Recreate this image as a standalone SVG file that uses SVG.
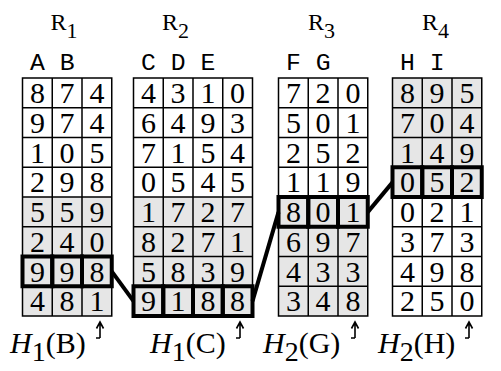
<svg xmlns="http://www.w3.org/2000/svg" width="501" height="371" viewBox="0 0 501 371">
<style>
.sh{fill:#e6e6e6}
.grid{fill:none;stroke:#000;stroke-width:1.5}
.hl{fill:none;stroke:#000;stroke-width:4}
.d{font-size:30px;text-anchor:middle;fill:#000}
.rn{font-size:24px;fill:#000}
.col{font-size:24.75px;fill:#000}
.lbl{font-size:30px;fill:#000}
.it{font-style:italic}
.conn{stroke:#000;stroke-width:4;fill:none}
.arr{stroke:#000;stroke-width:1.6;fill:none}
</style>
<rect width="501" height="371" fill="#fff"/>
<g id="R1" transform="translate(22.5,78)" font-family="'Liberation Serif', 'DejaVu Serif', serif">
<text class="rn" x="28" y="-48">R<tspan font-size="22" dy="8">1</tspan></text>
<text class="col" x="7.5" y="-8" font-family="'Liberation Mono', 'DejaVu Sans Mono', monospace">A B</text>
<rect class="sh" x="0" y="119" width="89.25" height="119"/>
<path class="grid" d="M0 29.75H89.25M0 59.5H89.25M0 89.25H89.25M0 119H89.25M0 148.75H89.25M0 178.5H89.25M0 208.25H89.25M29.75 0V238M59.5 0V238"/>
<rect class="grid" x="0" y="0" width="89.25" height="238"/>
<rect class="hl" x="0" y="178.5" width="29.75" height="29.75"/><rect class="hl" x="29.75" y="178.5" width="29.75" height="29.75"/><rect class="hl" x="59.5" y="178.5" width="29.75" height="29.75"/>
<g class="d">
<text x="14.9" y="25">8</text><text x="44.6" y="25">7</text><text x="74.4" y="25">4</text>
<text x="14.9" y="54.75">9</text><text x="44.6" y="54.75">7</text><text x="74.4" y="54.75">4</text>
<text x="14.9" y="84.5">1</text><text x="44.6" y="84.5">0</text><text x="74.4" y="84.5">5</text>
<text x="14.9" y="114.25">2</text><text x="44.6" y="114.25">9</text><text x="74.4" y="114.25">8</text>
<text x="14.9" y="144">5</text><text x="44.6" y="144">5</text><text x="74.4" y="144">9</text>
<text x="14.9" y="173.75">2</text><text x="44.6" y="173.75">4</text><text x="74.4" y="173.75">0</text>
<text x="14.9" y="203.5">9</text><text x="44.6" y="203.5">9</text><text x="74.4" y="203.5">8</text>
<text x="14.9" y="233.25">4</text><text x="44.6" y="233.25">8</text><text x="74.4" y="233.25">1</text>
</g>
<text class="lbl" x="-12.5" y="275"><tspan class="it">H</tspan><tspan font-size="28" dy="8">1</tspan><tspan dy="-8">(B)</tspan></text>
<path class="arr" d="M77.5 260V244M74 250.5L77.5 244L81 250.5M77.5 260H73.5"/>
</g>
<g id="R2" transform="translate(133.5,78)" font-family="'Liberation Serif', 'DejaVu Serif', serif">
<text class="rn" x="28.5" y="-48">R<tspan font-size="22" dy="8">2</tspan></text>
<text class="col" x="7.5" y="-8" font-family="'Liberation Mono', 'DejaVu Sans Mono', monospace">C D E</text>
<rect class="sh" x="0" y="119" width="119" height="119"/>
<path class="grid" d="M0 29.75H119M0 59.5H119M0 89.25H119M0 119H119M0 148.75H119M0 178.5H119M0 208.25H119M29.75 0V238M59.5 0V238M89.25 0V238"/>
<rect class="grid" x="0" y="0" width="119" height="238"/>
<rect class="hl" x="0" y="208.25" width="29.75" height="29.75"/><rect class="hl" x="29.75" y="208.25" width="29.75" height="29.75"/><rect class="hl" x="59.5" y="208.25" width="29.75" height="29.75"/><rect class="hl" x="89.25" y="208.25" width="29.75" height="29.75"/>
<g class="d">
<text x="14.9" y="25">4</text><text x="44.6" y="25">3</text><text x="74.4" y="25">1</text><text x="104.1" y="25">0</text>
<text x="14.9" y="54.75">6</text><text x="44.6" y="54.75">4</text><text x="74.4" y="54.75">9</text><text x="104.1" y="54.75">3</text>
<text x="14.9" y="84.5">7</text><text x="44.6" y="84.5">1</text><text x="74.4" y="84.5">5</text><text x="104.1" y="84.5">4</text>
<text x="14.9" y="114.25">0</text><text x="44.6" y="114.25">5</text><text x="74.4" y="114.25">4</text><text x="104.1" y="114.25">5</text>
<text x="14.9" y="144">1</text><text x="44.6" y="144">7</text><text x="74.4" y="144">2</text><text x="104.1" y="144">7</text>
<text x="14.9" y="173.75">8</text><text x="44.6" y="173.75">2</text><text x="74.4" y="173.75">7</text><text x="104.1" y="173.75">1</text>
<text x="14.9" y="203.5">5</text><text x="44.6" y="203.5">8</text><text x="74.4" y="203.5">3</text><text x="104.1" y="203.5">9</text>
<text x="14.9" y="233.25">9</text><text x="44.6" y="233.25">1</text><text x="74.4" y="233.25">8</text><text x="104.1" y="233.25">8</text>
</g>
<text class="lbl" x="16.5" y="275"><tspan class="it">H</tspan><tspan font-size="28" dy="8">1</tspan><tspan dy="-8">(C)</tspan></text>
<path class="arr" d="M106.5 260V244M103 250.5L106.5 244L110 250.5M106.5 260H102.5"/>
</g>
<g id="R3" transform="translate(278.5,78)" font-family="'Liberation Serif', 'DejaVu Serif', serif">
<text class="rn" x="29.5" y="-48">R<tspan font-size="22" dy="8">3</tspan></text>
<text class="col" x="7.5" y="-8" font-family="'Liberation Mono', 'DejaVu Sans Mono', monospace">F G</text>
<rect class="sh" x="0" y="119" width="89.25" height="119"/>
<path class="grid" d="M0 29.75H89.25M0 59.5H89.25M0 89.25H89.25M0 119H89.25M0 148.75H89.25M0 178.5H89.25M0 208.25H89.25M29.75 0V238M59.5 0V238"/>
<rect class="grid" x="0" y="0" width="89.25" height="238"/>
<rect class="hl" x="0" y="119" width="29.75" height="29.75"/><rect class="hl" x="29.75" y="119" width="29.75" height="29.75"/><rect class="hl" x="59.5" y="119" width="29.75" height="29.75"/>
<g class="d">
<text x="14.9" y="25">7</text><text x="44.6" y="25">2</text><text x="74.4" y="25">0</text>
<text x="14.9" y="54.75">5</text><text x="44.6" y="54.75">0</text><text x="74.4" y="54.75">1</text>
<text x="14.9" y="84.5">2</text><text x="44.6" y="84.5">5</text><text x="74.4" y="84.5">2</text>
<text x="14.9" y="114.25">1</text><text x="44.6" y="114.25">1</text><text x="74.4" y="114.25">9</text>
<text x="14.9" y="144">8</text><text x="44.6" y="144">0</text><text x="74.4" y="144">1</text>
<text x="14.9" y="173.75">6</text><text x="44.6" y="173.75">9</text><text x="74.4" y="173.75">7</text>
<text x="14.9" y="203.5">4</text><text x="44.6" y="203.5">3</text><text x="74.4" y="203.5">3</text>
<text x="14.9" y="233.25">3</text><text x="44.6" y="233.25">4</text><text x="74.4" y="233.25">8</text>
</g>
<text class="lbl" x="-15.5" y="275"><tspan class="it">H</tspan><tspan font-size="28" dy="8">2</tspan><tspan dy="-8">(G)</tspan></text>
<path class="arr" d="M76.5 260V244M73 250.5L76.5 244L80 250.5M76.5 260H72.5"/>
</g>
<g id="R4" transform="translate(392.5,78)" font-family="'Liberation Serif', 'DejaVu Serif', serif">
<text class="rn" x="29.5" y="-48">R<tspan font-size="22" dy="8">4</tspan></text>
<text class="col" x="7.5" y="-8" font-family="'Liberation Mono', 'DejaVu Sans Mono', monospace">H I</text>
<rect class="sh" x="0" y="0" width="89.25" height="119"/>
<path class="grid" d="M0 29.75H89.25M0 59.5H89.25M0 89.25H89.25M0 119H89.25M0 148.75H89.25M0 178.5H89.25M0 208.25H89.25M29.75 0V238M59.5 0V238"/>
<rect class="grid" x="0" y="0" width="89.25" height="238"/>
<rect class="hl" x="0" y="89.25" width="29.75" height="29.75"/><rect class="hl" x="29.75" y="89.25" width="29.75" height="29.75"/><rect class="hl" x="59.5" y="89.25" width="29.75" height="29.75"/>
<g class="d">
<text x="14.9" y="25">8</text><text x="44.6" y="25">9</text><text x="74.4" y="25">5</text>
<text x="14.9" y="54.75">7</text><text x="44.6" y="54.75">0</text><text x="74.4" y="54.75">4</text>
<text x="14.9" y="84.5">1</text><text x="44.6" y="84.5">4</text><text x="74.4" y="84.5">9</text>
<text x="14.9" y="114.25">0</text><text x="44.6" y="114.25">5</text><text x="74.4" y="114.25">2</text>
<text x="14.9" y="144">0</text><text x="44.6" y="144">2</text><text x="74.4" y="144">1</text>
<text x="14.9" y="173.75">3</text><text x="44.6" y="173.75">7</text><text x="74.4" y="173.75">3</text>
<text x="14.9" y="203.5">4</text><text x="44.6" y="203.5">9</text><text x="74.4" y="203.5">8</text>
<text x="14.9" y="233.25">2</text><text x="44.6" y="233.25">5</text><text x="74.4" y="233.25">0</text>
</g>
<text class="lbl" x="-14.5" y="275"><tspan class="it">H</tspan><tspan font-size="28" dy="8">2</tspan><tspan dy="-8">(H)</tspan></text>
<path class="arr" d="M76.5 260V244M73 250.5L76.5 244L80 250.5M76.5 260H72.5"/>
</g>
<g id="connectors">
<path class="conn" d="M111.75 271.4L133.5 301.1"/>
<path class="conn" d="M252.5 301.1L278.5 212.1"/>
<path class="conn" d="M367.75 212.1L392.5 182.4"/>
</g>
</svg>
